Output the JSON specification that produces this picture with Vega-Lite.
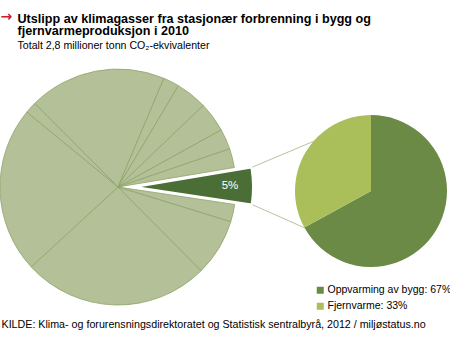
{
  "$schema": "https://vega.github.io/schema/vega-lite/v6.json",
  "width": 450,
  "height": 260,
  "autosize": {"type": "none"},
  "padding": {"left": 0, "top": 55, "right": 0, "bottom": 36},
  "background": "white",
  "title": {
    "text": ["Utslipp av klimagasser fra stasjonær forbrenning i bygg og", "fjernvarmeproduksjon i 2010"],
    "subtitle": "Totalt 2,8 millioner tonn CO₂-ekvivalenter",
    "anchor": "start",
    "frame": "group",
    "dx": 17.5,
    "dy": 47.5,
    "offset": 5,
    "font": "Liberation Sans",
    "fontSize": 12.6,
    "fontWeight": "bold",
    "color": "#000000",
    "lineHeight": 12.8,
    "subtitleFont": "Liberation Sans",
    "subtitleFontSize": 10.6,
    "subtitleColor": "#000000",
    "subtitlePadding": 3
  },
  "datasets": {
    "totalt": [
      {"nr": 1, "sektor": "Stasjonær forbrenning i bygg og fjernvarme", "andel": 0.05},
      {"nr": 2, "sektor": "Sektor 2", "andel": 0.024},
      {"nr": 3, "sektor": "Sektor 3", "andel": 0.078},
      {"nr": 4, "sektor": "Sektor 4", "andel": 0.256},
      {"nr": 5, "sektor": "Sektor 5", "andel": 0.228},
      {"nr": 6, "sektor": "Sektor 6", "andel": 0.016},
      {"nr": 7, "sektor": "Sektor 7", "andel": 0.188},
      {"nr": 8, "sektor": "Sektor 8", "andel": 0.022},
      {"nr": 9, "sektor": "Sektor 9", "andel": 0.043},
      {"nr": 10, "sektor": "Sektor 10", "andel": 0.041},
      {"nr": 11, "sektor": "Sektor 11", "andel": 0.028},
      {"nr": 12, "sektor": "Sektor 12", "andel": 0.026}
    ],
    "bygg": [
      {"nr": 1, "kategori": "Oppvarming av bygg: 67%", "andel": 0.67},
      {"nr": 2, "kategori": "Fjernvarme: 33%", "andel": 0.33}
    ]
  },
  "layer": [
    {
      "data": {"name": "totalt"},
      "transform": [
        {"stack": "andel", "groupby": [], "sort": [{"field": "nr", "order": "ascending"}], "as": ["v0", "v1"]},
        {"filter": "datum.nr !== 1"}
      ],
      "mark": {"type": "arc", "outerRadius": 118, "fill": "#b3c098", "stroke": "#8fa46a", "strokeWidth": 0.8},
      "encoding": {
        "theta": {"field": "v0", "type": "quantitative", "stack": null, "scale": {"domain": [0, 1], "range": [1.405, 7.688]}},
        "theta2": {"field": "v1"},
        "x": {
          "datum": 118, "type": "quantitative",
          "scale": {"domain": [0, 450], "nice": false, "zero": false},
          "axis": {
            "title": "KILDE: Klima- og forurensningsdirektoratet og Statistisk sentralbyrå, 2012 / miljøstatus.no",
            "titleX": 1, "titleY": 12, "titleAlign": "left", "titleBaseline": "alphabetic",
            "titleFont": "Liberation Sans", "titleFontSize": 10.7, "titleFontWeight": "normal", "titleColor": "#000000",
            "domain": false, "ticks": false, "labels": false, "grid": false
          }
        },
        "y": {
          "datum": 132, "type": "quantitative",
          "scale": {"domain": [0, 260], "nice": false, "zero": false, "reverse": true},
          "axis": {
            "title": "→",
            "titleX": 0, "titleY": -39, "titleAngle": 0, "titleAlign": "left", "titleBaseline": "middle",
            "titleFont": "DejaVu Sans", "titleFontSize": 14, "titleFontWeight": "bold", "titleColor": "#c8202e",
            "domain": false, "ticks": false, "labels": false, "grid": false
          }
        }
      }
    },
    {
      "data": {"values": [{}]},
      "mark": {"type": "rule", "stroke": "#b7c49f", "strokeWidth": 1},
      "encoding": {
        "x": {"datum": 251.4, "type": "quantitative", "scale": {"domain": [0, 450], "nice": false, "zero": false}},
        "y": {"datum": 112.5, "type": "quantitative", "scale": {"domain": [0, 260], "nice": false, "zero": false, "reverse": true}},
        "x2": {"datum": 313.4},
        "y2": {"datum": 86.4}
      }
    },
    {
      "data": {"values": [{}]},
      "mark": {"type": "rule", "stroke": "#b7c49f", "strokeWidth": 1},
      "encoding": {
        "x": {"datum": 251.7, "type": "quantitative", "scale": {"domain": [0, 450], "nice": false, "zero": false}},
        "y": {"datum": 149.4, "type": "quantitative", "scale": {"domain": [0, 260], "nice": false, "zero": false, "reverse": true}},
        "x2": {"datum": 305},
        "y2": {"datum": 173}
      }
    },
    {
      "data": {"name": "totalt"},
      "transform": [
        {"stack": "andel", "groupby": [], "sort": [{"field": "nr", "order": "ascending"}], "as": ["v0", "v1"]},
        {"filter": "datum.nr === 1"}
      ],
      "mark": {"type": "arc", "outerRadius": 118, "fill": "#4b6e36", "stroke": "#ffffff", "strokeWidth": 2},
      "encoding": {
        "theta": {"field": "v0", "type": "quantitative", "stack": null, "scale": {"domain": [0, 1], "range": [1.405, 7.688]}},
        "theta2": {"field": "v1"},
        "x": {"datum": 135, "type": "quantitative", "scale": {"domain": [0, 450], "nice": false, "zero": false}},
        "y": {"datum": 132, "type": "quantitative", "scale": {"domain": [0, 260], "nice": false, "zero": false, "reverse": true}}
      }
    },
    {
      "data": {"name": "totalt"},
      "transform": [
        {"stack": "andel", "groupby": [], "sort": [{"field": "nr", "order": "ascending"}], "as": ["v0", "v1"]},
        {"filter": "datum.nr === 1"},
        {"calculate": "(datum.v0 + datum.v1) / 2", "as": "vmid"}
      ],
      "mark": {"type": "text", "radius": 95, "fill": "#ffffff", "font": "Liberation Sans", "fontSize": 11.5, "align": "center", "baseline": "middle"},
      "encoding": {
        "theta": {"field": "vmid", "type": "quantitative", "stack": null, "scale": {"domain": [0, 1], "range": [1.405, 7.688]}},
        "text": {"field": "andel", "type": "quantitative", "format": ".0%"},
        "x": {"datum": 135, "type": "quantitative", "scale": {"domain": [0, 450], "nice": false, "zero": false}},
        "y": {"datum": 132, "type": "quantitative", "scale": {"domain": [0, 260], "nice": false, "zero": false, "reverse": true}}
      }
    },
    {
      "data": {"name": "bygg"},
      "transform": [
        {"stack": "andel", "groupby": [], "sort": [{"field": "nr", "order": "ascending"}], "as": ["v0", "v1"]}
      ],
      "mark": {"type": "arc", "outerRadius": 76},
      "encoding": {
        "theta": {"field": "v0", "type": "quantitative", "stack": null, "scale": {"domain": [0, 1], "range": [0, 6.2832]}},
        "theta2": {"field": "v1"},
        "color": {
          "field": "kategori", "type": "nominal",
          "scale": {"domain": ["Oppvarming av bygg: 67%", "Fjernvarme: 33%"], "range": ["#6a8a45", "#aabe5a"]},
          "legend": {
            "title": null, "orient": "none", "legendX": 315, "legendY": 230,
            "symbolType": "square", "symbolSize": 49, "symbolStrokeWidth": 0,
            "labelFont": "Liberation Sans", "labelFontSize": 10.5, "labelColor": "#000000",
            "labelOffset": 2, "rowPadding": 5, "padding": 0, "labelLimit": 200
          }
        },
        "x": {"datum": 371, "type": "quantitative", "scale": {"domain": [0, 450], "nice": false, "zero": false}},
        "y": {"datum": 136, "type": "quantitative", "scale": {"domain": [0, 260], "nice": false, "zero": false, "reverse": true}}
      }
    }
  ],
  "resolve": {"scale": {"theta": "independent"}},
  "config": {
    "view": {"stroke": null},
    "font": "Liberation Sans"
  }
}
